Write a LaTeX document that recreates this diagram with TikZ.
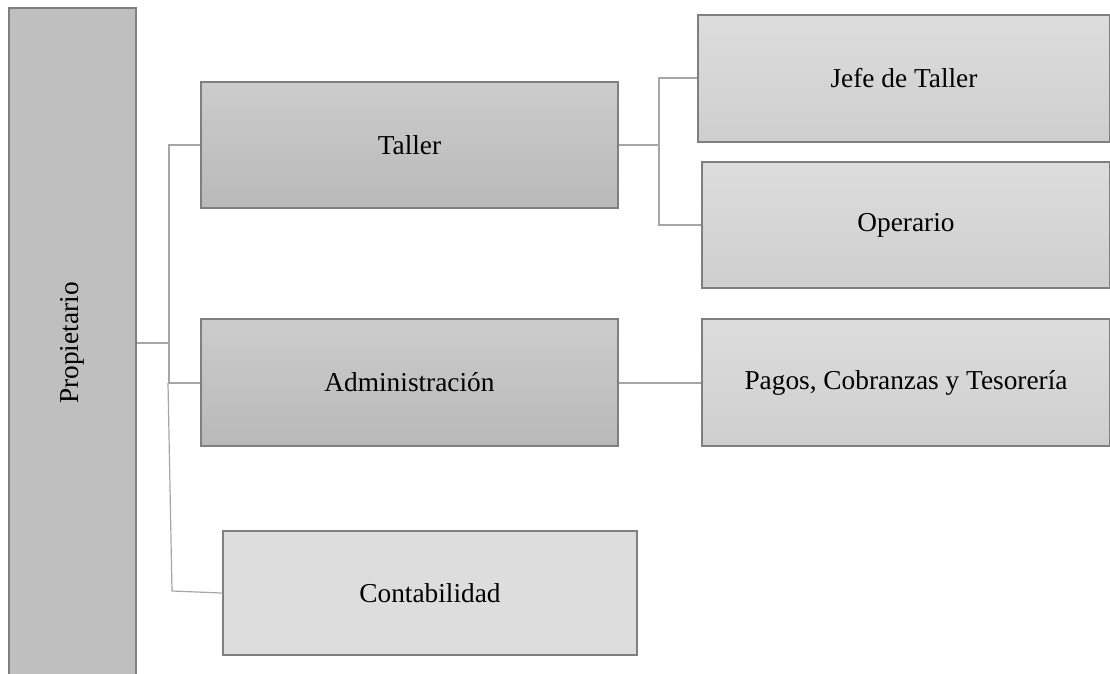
\documentclass[tikz,border=0pt]{standalone}
\usepackage{fontspec}
\setmainfont{Liberation Serif}
\definecolor{boxline}{HTML}{7F7F7F}
\definecolor{linkgray}{HTML}{A6A6A6}
\tikzset{
  unit/.style={draw=boxline, line width=1.1pt, font=\fontsize{20.5}{24}\selectfont, inner sep=0pt},
  lvlone/.style={unit, top color=gray!40!white, bottom color=gray!55!white, minimum width=312.75pt, minimum height=94.5pt},
  lvltwo/.style={unit, top color=gray!27!white, bottom color=gray!38!white, minimum height=94.5pt},
  link/.style={draw=linkgray, line width=1.5pt},
}
\begin{document}
\begin{tikzpicture}[x=0.75pt,y=-0.75pt]
  \useasboundingbox (0,0) rectangle (1110,674);

  \node[unit, fill=gray!50!white, rotate=90, minimum width=502.5pt, minimum height=95.25pt] (prop) at (72.5,343) {Propietario};

  \node[lvlone] (taller) at (409.5,145) {Taller};
  \node[lvlone] (admin) at (409.5,382.5) {Administración};
  \node[unit, fill=gray!27!white, line width=2.2pt, minimum width=310.5pt, minimum height=93pt] (contab) at (430,593) {Contabilidad};

  \node[lvltwo, minimum width=309pt, minimum height=95.25pt] (jefe) at (904,78.5) {Jefe de Taller};
  \node[lvltwo, minimum width=306pt] (oper) at (906,225) {Operario};
  \node[lvltwo, minimum width=306pt] (pagos) at (906,382.5) {Pagos, Cobranzas y Tesorería};

  % conectores
  \draw[link] (prop.south) -- ++(32,0) coordinate (bus);
  \draw[link] (bus) |- (taller.west);
  \draw[link] (bus) |- (admin.west);
  \coordinate (cbus) at (172,591);
  \draw[link, line width=0.9pt] (168,383) -- (cbus) -- (contab.west);

  \draw[link] (taller.east) -- ++(40,0) coordinate (tbus);
  \draw[link] (tbus) |- (jefe.west);
  \draw[link] (tbus) |- (oper.west);
  \draw[link] (admin.east) -- (pagos.west);

  % cajas encima de las lineas
  \foreach \n in {taller, admin, jefe, oper, pagos} {
    \draw[boxline, line width=1.1pt] (\n.north west) rectangle (\n.south east);
  }
\end{tikzpicture}
\end{document}
